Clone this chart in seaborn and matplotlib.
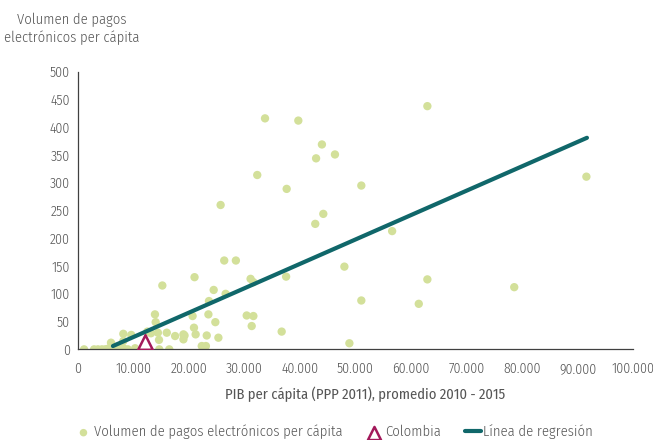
import numpy as np
import pandas as pd
import matplotlib
matplotlib.use("Agg")
import matplotlib.pyplot as plt
import seaborn as sns
from matplotlib.ticker import FuncFormatter

# PIB per capita (PPP 2011) and electronic payments per capita
pib = [1100, 2900, 3600, 4300, 4900, 5400, 5900, 6400, 7000, 7500, 8200, 9000, 10300,
       5950, 8170, 9600, 8170, 12500, 12500, 13150, 13870, 14000, 14400, 14600, 14650,
       15200, 16000, 16450, 17500, 19000, 19200, 19000, 20650, 20900, 21200, 21000,
       22300, 23050, 23200, 23500, 23600, 24450, 24750, 25300, 25700, 26350, 26600,
       28450, 30400, 31100, 31600, 31600, 31300, 32300, 33700, 36700, 37500, 37600,
       39700, 42750, 42900, 43950, 44200, 46300, 48000, 48900, 51050, 51050, 56600,
       61400, 62950, 62950, 78600, 91600]
pagos = [0, 0, 0, 0, 0, 1, 3, 0, 5, 0, 2, 0, 2,
         12, 28, 26, 15, 32, 0, 29, 63, 49, 30, 17, 0,
         115, 30, 0, 24, 27, 25, 18, 60, 39, 27, 130,
         6, 6, 25, 63, 87, 107, 49, 21, 260, 160, 100,
         160, 61, 127, 121, 60, 42, 314, 416, 32, 131, 289,
         412, 226, 344, 369, 244, 351, 149, 11, 295, 88, 213,
         82, 438, 126, 112, 311]

colombia_pib = [12100]
colombia_pagos = [14]

# regression line as drawn
reg_pib = [6300, 91700]
reg_pagos = [6, 381]

x_ticks = list(range(0, 100001, 10000))
y_ticks = list(range(0, 501, 50))

points = pd.DataFrame({"pib": pib, "pagos": pagos})
col = pd.DataFrame({"pib": colombia_pib, "pagos": colombia_pagos})
reg = pd.DataFrame({"pib": reg_pib, "pagos": reg_pagos})

sns.set_style("white")
plt.rcParams["font.family"] = ["Fira Sans Condensed", "DejaVu Sans"]
plt.rcParams["font.weight"] = 300
text_color = "#555555"

fig = plt.figure(figsize=(6.53, 4.40), dpi=100)
ax = fig.add_axes([0.1194, 0.206, 0.85, 0.631])

green = "#d3e09a"
teal = "#10676a"
magenta = "#a3195b"

sns.scatterplot(data=points, x="pib", y="pagos", ax=ax, color=green, s=36,
                edgecolor="none", label="Volumen de pagos electrónicos per cápita", zorder=2)
sns.lineplot(data=reg, x="pib", y="pagos", ax=ax, color=teal, linewidth=3,
             label="Línea de regresión", zorder=3)
sns.scatterplot(data=col, x="pib", y="pagos", ax=ax, marker="^", s=110,
                facecolor="white", edgecolor=magenta, linewidth=1.8,
                label="Colombia", zorder=4)

ax.set_xlim(0, 100000)
ax.set_ylim(0, 500)
ax.set_xticks(x_ticks)
ax.set_yticks(y_ticks)
ax.xaxis.set_major_formatter(FuncFormatter(lambda v, p: "0" if v == 0 else f"{int(v):,}".replace(",", ".")))
ax.tick_params(axis="both", direction="in", length=4, width=0.8, color="#404040",
               labelsize=10, labelcolor=text_color, pad=6)
ax.tick_params(axis="x", pad=9)

sns.despine(ax=ax)
for side in ["left", "bottom"]:
    ax.spines[side].set_color("#404040")
    ax.spines[side].set_linewidth(0.9)

ax.set_xlabel("PIB per cápita (PPP 2011), promedio 2010 - 2015", fontsize=10.5,
              color=text_color)
ax.xaxis.set_label_coords(0.517, -0.135)
ax.set_ylabel("")
fig.text(0.110, 0.935, "Volumen de pagos\nelectrónicos per cápita", ha="center", va="center",
         fontsize=10.5, color=text_color, linespacing=1.25)

handles, labels = ax.get_legend_handles_labels()
order = [labels.index("Volumen de pagos electrónicos per cápita"), labels.index("Colombia"),
         labels.index("Línea de regresión")]
ax.legend([handles[i] for i in order], [labels[i] for i in order], ncol=3, frameon=False,
          loc="center", bbox_to_anchor=(0.512, 0.018), bbox_transform=fig.transFigure,
          fontsize=10.5, labelcolor=text_color, handlelength=1.1, handletextpad=0.2,
          columnspacing=1.6, markerscale=0.9, borderpad=0.1)

fig.savefig("out.png", dpi=100, facecolor="white")
